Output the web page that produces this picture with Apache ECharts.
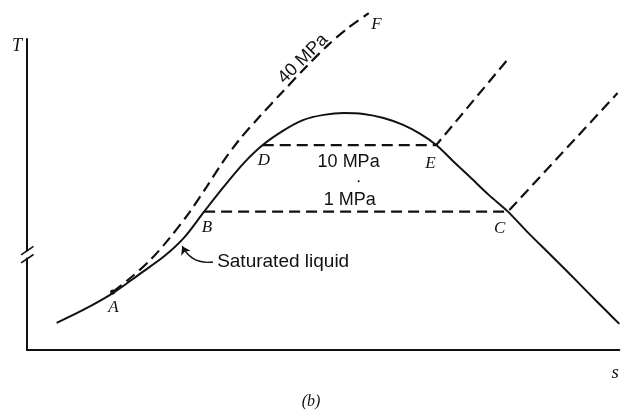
<!DOCTYPE html>
<html>
<head>
<meta charset="utf-8">
<script src="https://cdn.jsdelivr.net/npm/echarts@6/dist/echarts.min.js"></script>
<style>html,body{margin:0;padding:0;background:#fff;}#c{width:622px;height:411px;}</style>
</head>
<body>
<div id="c"></div>
<script>
// Saturation dome (entropy s, temperature T, arbitrary units)
const domeS = [0.50, 0.98, 1.45, 1.90, 2.32, 2.66, 2.99, 3.33, 3.66, 3.98, 4.34, 4.67, 5.01, 5.35, 5.68, 6.02, 6.35, 6.64, 6.91, 7.19, 7.48, 7.80, 8.12, 8.45, 8.79, 9.13, 9.46, 9.80, 10.0];
const domeT = [0.87, 1.32, 1.83, 2.44, 3.02, 3.63, 4.45, 5.27, 6.01, 6.59, 7.07, 7.40, 7.56, 7.62, 7.59, 7.46, 7.24, 6.95, 6.59, 6.08, 5.56, 4.98, 4.45, 3.79, 3.15, 2.51, 1.87, 1.22, 0.84];
// 40 MPa isobar (compressed liquid -> supercritical)
const p40S = [1.45, 1.73, 2.07, 2.40, 2.74, 3.03, 3.29, 3.58, 3.92, 4.30, 4.72, 5.09, 5.43, 5.77];
const p40T = [1.87, 2.29, 2.87, 3.58, 4.42, 5.24, 6.00, 6.75, 7.49, 8.27, 9.12, 9.82, 10.37, 10.83];
// 10 MPa isobar: D -> E -> superheated
const p10S = [3.98, 6.91, 8.15];
const p10T = [6.59, 6.59, 9.42];
// 1 MPa isobar: B -> C -> superheated
const p1S = [2.99, 8.12, 9.97];
const p1T = [4.45, 4.45, 8.26];
// state point A
const pointA = [1.445, 1.865];
// state labels
const stateNames = ['A', 'B', 'C', 'D', 'E', 'F'];
const stateS = [1.46, 3.04, 7.98, 4.00, 6.81, 5.90];
const stateT = [1.38, 3.95, 3.89, 6.08, 6.01, 10.45];
// pressure / text labels
const textNames = ['10 MPa', '1 MPa', '40 MPa', 'Saturated liquid'];
const textS = [5.43, 5.45, 4.66, 3.21];
const textT = [6.05, 4.82, 9.36, 2.83];
// arrow from text to curve
const arrowFrom = [3.14, 2.83];
const arrowTo = [2.62, 3.34];
// axis break marks on T axis
const breakMarks = [[[-0.10, 3.06], [0.11, 3.33]], [[-0.10, 2.80], [0.11, 3.07]]];
const breakGap = [[0, 2.97], [0, 3.17]];

const zip = (a, b) => a.map((v, i) => [v, b[i]]);
const chart = echarts.init(document.getElementById('c'), null, {renderer: 'canvas'});
const ink = '#111';
const dash = {type: [11, 6], width: 2.2, color: ink, opacity: 1};
const labelBase = {show: true, position: 'inside', formatter: '{b}', color: ink, opacity: 1, textBorderWidth: 0};

chart.setOption({
  animation: false,
  backgroundColor: '#fff',
  title: {
    text: '(b)', left: 'center', top: 389,
    textStyle: {fontFamily: 'Liberation Serif', fontStyle: 'italic', fontWeight: 'normal', fontSize: 16, color: ink}
  },
  grid: {left: 27, right: 0, top: 39, bottom: 61},
  xAxis: {
    type: 'value', min: 0, max: 10,
    name: 's', nameLocation: 'end', nameGap: -4,
    nameTextStyle: {fontFamily: 'Liberation Serif', fontStyle: 'italic', fontSize: 19, color: ink, align: 'center', verticalAlign: 'top', padding: [13, 0, 0, 0]},
    axisLine: {show: true, lineStyle: {color: ink, width: 2}},
    axisTick: {show: false}, axisLabel: {show: false}, splitLine: {show: false}
  },
  yAxis: {
    type: 'value', min: 0, max: 10,
    name: 'T', nameLocation: 'end', nameGap: -7,
    nameTextStyle: {fontFamily: 'Liberation Serif', fontStyle: 'italic', fontSize: 18, color: ink, align: 'right', verticalAlign: 'middle', padding: [0, 5, 0, 0]},
    axisLine: {show: true, lineStyle: {color: ink, width: 2}},
    axisTick: {show: false}, axisLabel: {show: false}, splitLine: {show: false}
  },
  series: [
    {type: 'line', name: 'dome', data: zip(domeS, domeT), smooth: 0.3, showSymbol: false, clip: false,
     lineStyle: {color: ink, width: 2, opacity: 1}},
    {type: 'line', name: '40 MPa', data: zip(p40S, p40T), smooth: 0.3, showSymbol: false, clip: false,
     lineStyle: dash},
    {type: 'line', name: '10 MPa', data: zip(p10S, p10T), showSymbol: false, clip: false, lineStyle: dash},
    {type: 'line', name: '1 MPa', data: zip(p1S, p1T), showSymbol: false, clip: false, lineStyle: dash},
    {type: 'line', name: 'gap', data: breakGap, showSymbol: false, clip: false, z: 5,
     lineStyle: {color: '#fff', width: 4, opacity: 1}},
    {type: 'lines', coordinateSystem: 'cartesian2d', clip: false, z: 6,
     data: breakMarks.map(c => ({coords: c})),
     lineStyle: {color: ink, width: 1.6, curveness: 0, opacity: 1}, symbol: ['none', 'none']},
    {type: 'lines', coordinateSystem: 'cartesian2d', clip: false,
     data: [{coords: [arrowFrom, arrowTo]}],
     lineStyle: {color: ink, width: 1.4, curveness: 0.35, opacity: 1}, symbol: ['none', 'arrow'], symbolSize: 8},
    {type: 'scatter', name: 'A point', data: [pointA], symbol: 'circle', symbolSize: 5, clip: false,
     itemStyle: {color: ink, opacity: 1}},
    {type: 'scatter', name: 'states', clip: false, symbolSize: 0, itemStyle: {opacity: 1},
     data: stateNames.map((n, i) => ({name: n, value: [stateS[i], stateT[i]]})),
     label: Object.assign({}, labelBase, {fontFamily: 'Liberation Serif', fontStyle: 'italic', fontSize: 17})},
    {type: 'scatter', name: 'texts', clip: false, symbolSize: 0, itemStyle: {opacity: 1},
     data: textNames.map((n, i) => {
       const d = {name: n, value: [textS[i], textT[i]]};
       if (n === '40 MPa') d.label = {rotate: 45};
       if (n === 'Saturated liquid') d.label = {align: 'left', fontSize: 19};
       return d;
     }),
     label: Object.assign({}, labelBase, {fontFamily: 'Liberation Sans', fontSize: 18})},
    {type: 'scatter', name: 'dot', data: [[5.60, 5.43]], symbolSize: 2, itemStyle: {color: ink, opacity: 1}}
  ]
});
</script>
</body>
</html>
